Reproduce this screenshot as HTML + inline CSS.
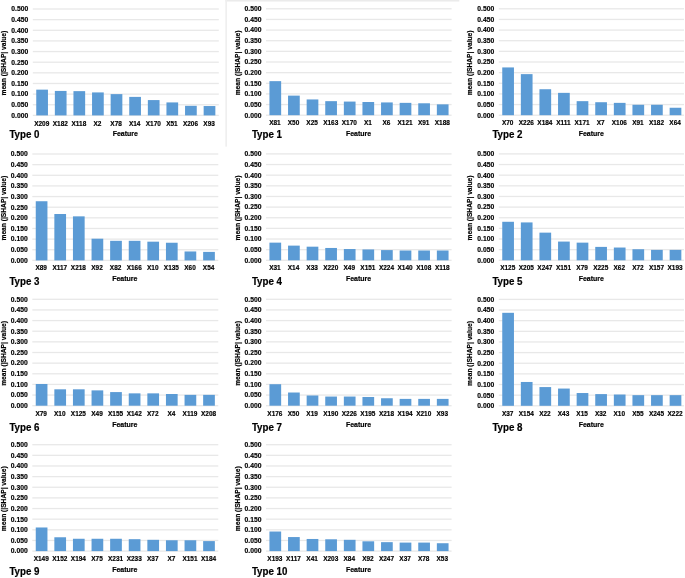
<!DOCTYPE html>
<html><head><meta charset="utf-8"><title>SHAP feature importance</title>
<style>
html,body{margin:0;padding:0;background:#fff;}
svg{display:block;filter:blur(0.3px);}
text{font-family:"Liberation Sans",sans-serif;font-weight:bold;fill:#000;stroke:#000;stroke-width:0.2px;}
</style></head><body>
<svg width="685" height="578" viewBox="0 0 685 578">
<rect width="685" height="578" fill="#fff"/>
<rect x="225.3" y="0" width="234" height="1.55" fill="#ebebeb"/>
<rect x="225.3" y="0" width="1.7" height="146.6" fill="#efefef"/>
<g>
<rect x="32.80" y="114.75" width="186.00" height="1.3" fill="#e8e8e8"/>
<text transform="translate(28.20,117.75) scale(0.840,1)" font-size="8.05" text-anchor="end">0.000</text>
<rect x="32.80" y="104.11" width="186.00" height="1.3" fill="#e8e8e8"/>
<text transform="translate(28.20,107.11) scale(0.840,1)" font-size="8.05" text-anchor="end">0.050</text>
<rect x="32.80" y="93.47" width="186.00" height="1.3" fill="#e8e8e8"/>
<text transform="translate(28.20,96.47) scale(0.840,1)" font-size="8.05" text-anchor="end">0.100</text>
<rect x="32.80" y="82.83" width="186.00" height="1.3" fill="#e8e8e8"/>
<text transform="translate(28.20,85.83) scale(0.840,1)" font-size="8.05" text-anchor="end">0.150</text>
<rect x="32.80" y="72.19" width="186.00" height="1.3" fill="#e8e8e8"/>
<text transform="translate(28.20,75.19) scale(0.840,1)" font-size="8.05" text-anchor="end">0.200</text>
<rect x="32.80" y="61.55" width="186.00" height="1.3" fill="#e8e8e8"/>
<text transform="translate(28.20,64.55) scale(0.840,1)" font-size="8.05" text-anchor="end">0.250</text>
<rect x="32.80" y="50.91" width="186.00" height="1.3" fill="#e8e8e8"/>
<text transform="translate(28.20,53.91) scale(0.840,1)" font-size="8.05" text-anchor="end">0.300</text>
<rect x="32.80" y="40.27" width="186.00" height="1.3" fill="#e8e8e8"/>
<text transform="translate(28.20,43.27) scale(0.840,1)" font-size="8.05" text-anchor="end">0.350</text>
<rect x="32.80" y="29.63" width="186.00" height="1.3" fill="#e8e8e8"/>
<text transform="translate(28.20,32.63) scale(0.840,1)" font-size="8.05" text-anchor="end">0.400</text>
<rect x="32.80" y="18.99" width="186.00" height="1.3" fill="#e8e8e8"/>
<text transform="translate(28.20,21.99) scale(0.840,1)" font-size="8.05" text-anchor="end">0.450</text>
<rect x="32.80" y="8.35" width="186.00" height="1.3" fill="#e8e8e8"/>
<text transform="translate(28.20,11.35) scale(0.840,1)" font-size="8.05" text-anchor="end">0.500</text>
<rect x="36.25" y="89.65" width="11.70" height="25.75" fill="#5b9bd5"/>
<text transform="translate(41.70,125.80) scale(0.820,1)" font-size="7.90" text-anchor="middle">X209</text>
<rect x="54.85" y="90.93" width="11.70" height="24.47" fill="#5b9bd5"/>
<text transform="translate(60.30,125.80) scale(0.820,1)" font-size="7.90" text-anchor="middle">X182</text>
<rect x="73.45" y="91.14" width="11.70" height="24.26" fill="#5b9bd5"/>
<text transform="translate(78.90,125.80) scale(0.820,1)" font-size="7.90" text-anchor="middle">X118</text>
<rect x="92.05" y="92.42" width="11.70" height="22.98" fill="#5b9bd5"/>
<text transform="translate(97.50,125.80) scale(0.820,1)" font-size="7.90" text-anchor="middle">X2</text>
<rect x="110.65" y="94.12" width="11.70" height="21.28" fill="#5b9bd5"/>
<text transform="translate(116.10,125.80) scale(0.820,1)" font-size="7.90" text-anchor="middle">X78</text>
<rect x="129.25" y="96.89" width="11.70" height="18.51" fill="#5b9bd5"/>
<text transform="translate(134.70,125.80) scale(0.820,1)" font-size="7.90" text-anchor="middle">X14</text>
<rect x="147.85" y="100.08" width="11.70" height="15.32" fill="#5b9bd5"/>
<text transform="translate(153.30,125.80) scale(0.820,1)" font-size="7.90" text-anchor="middle">X170</text>
<rect x="166.45" y="102.42" width="11.70" height="12.98" fill="#5b9bd5"/>
<text transform="translate(171.90,125.80) scale(0.820,1)" font-size="7.90" text-anchor="middle">X51</text>
<rect x="185.05" y="105.82" width="11.70" height="9.58" fill="#5b9bd5"/>
<text transform="translate(190.50,125.80) scale(0.820,1)" font-size="7.90" text-anchor="middle">X206</text>
<rect x="203.65" y="106.04" width="11.70" height="9.36" fill="#5b9bd5"/>
<text transform="translate(209.10,125.80) scale(0.820,1)" font-size="7.90" text-anchor="middle">X93</text>
<text transform="translate(125.30,136.30) scale(0.884,1)" font-size="7.90" text-anchor="middle">Feature</text>
<text transform="translate(9.40,138.00) scale(0.975,1)" font-size="10.00" text-anchor="start">Type 0</text>
<text transform="translate(6.10,63.10) rotate(-90) scale(0.845,1)" font-size="7.90" text-anchor="middle">mean (|SHAP| value)</text>
</g>
<g>
<rect x="266.00" y="114.55" width="185.60" height="1.3" fill="#e8e8e8"/>
<text transform="translate(261.40,117.55) scale(0.840,1)" font-size="8.05" text-anchor="end">0.000</text>
<rect x="266.00" y="103.91" width="185.60" height="1.3" fill="#e8e8e8"/>
<text transform="translate(261.40,106.91) scale(0.840,1)" font-size="8.05" text-anchor="end">0.050</text>
<rect x="266.00" y="93.27" width="185.60" height="1.3" fill="#e8e8e8"/>
<text transform="translate(261.40,96.27) scale(0.840,1)" font-size="8.05" text-anchor="end">0.100</text>
<rect x="266.00" y="82.63" width="185.60" height="1.3" fill="#e8e8e8"/>
<text transform="translate(261.40,85.63) scale(0.840,1)" font-size="8.05" text-anchor="end">0.150</text>
<rect x="266.00" y="71.99" width="185.60" height="1.3" fill="#e8e8e8"/>
<text transform="translate(261.40,74.99) scale(0.840,1)" font-size="8.05" text-anchor="end">0.200</text>
<rect x="266.00" y="61.35" width="185.60" height="1.3" fill="#e8e8e8"/>
<text transform="translate(261.40,64.35) scale(0.840,1)" font-size="8.05" text-anchor="end">0.250</text>
<rect x="266.00" y="50.71" width="185.60" height="1.3" fill="#e8e8e8"/>
<text transform="translate(261.40,53.71) scale(0.840,1)" font-size="8.05" text-anchor="end">0.300</text>
<rect x="266.00" y="40.07" width="185.60" height="1.3" fill="#e8e8e8"/>
<text transform="translate(261.40,43.07) scale(0.840,1)" font-size="8.05" text-anchor="end">0.350</text>
<rect x="266.00" y="29.43" width="185.60" height="1.3" fill="#e8e8e8"/>
<text transform="translate(261.40,32.43) scale(0.840,1)" font-size="8.05" text-anchor="end">0.400</text>
<rect x="266.00" y="18.79" width="185.60" height="1.3" fill="#e8e8e8"/>
<text transform="translate(261.40,21.79) scale(0.840,1)" font-size="8.05" text-anchor="end">0.450</text>
<rect x="266.00" y="8.15" width="185.60" height="1.3" fill="#e8e8e8"/>
<text transform="translate(261.40,11.15) scale(0.840,1)" font-size="8.05" text-anchor="end">0.500</text>
<rect x="269.45" y="81.15" width="11.70" height="34.05" fill="#5b9bd5"/>
<text transform="translate(274.90,124.90) scale(0.820,1)" font-size="7.90" text-anchor="middle">X81</text>
<rect x="288.05" y="95.62" width="11.70" height="19.58" fill="#5b9bd5"/>
<text transform="translate(293.50,124.90) scale(0.820,1)" font-size="7.90" text-anchor="middle">X50</text>
<rect x="306.65" y="99.45" width="11.70" height="15.75" fill="#5b9bd5"/>
<text transform="translate(312.10,124.90) scale(0.820,1)" font-size="7.90" text-anchor="middle">X25</text>
<rect x="325.25" y="101.16" width="11.70" height="14.04" fill="#5b9bd5"/>
<text transform="translate(330.70,124.90) scale(0.820,1)" font-size="7.90" text-anchor="middle">X163</text>
<rect x="343.85" y="101.58" width="11.70" height="13.62" fill="#5b9bd5"/>
<text transform="translate(349.30,124.90) scale(0.820,1)" font-size="7.90" text-anchor="middle">X170</text>
<rect x="362.45" y="102.01" width="11.70" height="13.19" fill="#5b9bd5"/>
<text transform="translate(367.90,124.90) scale(0.820,1)" font-size="7.90" text-anchor="middle">X1</text>
<rect x="381.05" y="102.43" width="11.70" height="12.77" fill="#5b9bd5"/>
<text transform="translate(386.50,124.90) scale(0.820,1)" font-size="7.90" text-anchor="middle">X6</text>
<rect x="399.65" y="102.86" width="11.70" height="12.34" fill="#5b9bd5"/>
<text transform="translate(405.10,124.90) scale(0.820,1)" font-size="7.90" text-anchor="middle">X121</text>
<rect x="418.25" y="103.28" width="11.70" height="11.92" fill="#5b9bd5"/>
<text transform="translate(423.70,124.90) scale(0.820,1)" font-size="7.90" text-anchor="middle">X91</text>
<rect x="436.85" y="104.35" width="11.70" height="10.85" fill="#5b9bd5"/>
<text transform="translate(442.30,124.90) scale(0.820,1)" font-size="7.90" text-anchor="middle">X188</text>
<text transform="translate(358.50,136.10) scale(0.884,1)" font-size="7.90" text-anchor="middle">Feature</text>
<text transform="translate(251.90,138.00) scale(0.975,1)" font-size="10.00" text-anchor="start">Type 1</text>
<text transform="translate(239.80,62.90) rotate(-90) scale(0.845,1)" font-size="7.90" text-anchor="middle">mean (|SHAP| value)</text>
</g>
<g>
<rect x="498.80" y="114.55" width="185.20" height="1.3" fill="#e8e8e8"/>
<text transform="translate(494.20,117.55) scale(0.840,1)" font-size="8.05" text-anchor="end">0.000</text>
<rect x="498.80" y="103.91" width="185.20" height="1.3" fill="#e8e8e8"/>
<text transform="translate(494.20,106.91) scale(0.840,1)" font-size="8.05" text-anchor="end">0.050</text>
<rect x="498.80" y="93.27" width="185.20" height="1.3" fill="#e8e8e8"/>
<text transform="translate(494.20,96.27) scale(0.840,1)" font-size="8.05" text-anchor="end">0.100</text>
<rect x="498.80" y="82.63" width="185.20" height="1.3" fill="#e8e8e8"/>
<text transform="translate(494.20,85.63) scale(0.840,1)" font-size="8.05" text-anchor="end">0.150</text>
<rect x="498.80" y="71.99" width="185.20" height="1.3" fill="#e8e8e8"/>
<text transform="translate(494.20,74.99) scale(0.840,1)" font-size="8.05" text-anchor="end">0.200</text>
<rect x="498.80" y="61.35" width="185.20" height="1.3" fill="#e8e8e8"/>
<text transform="translate(494.20,64.35) scale(0.840,1)" font-size="8.05" text-anchor="end">0.250</text>
<rect x="498.80" y="50.71" width="185.20" height="1.3" fill="#e8e8e8"/>
<text transform="translate(494.20,53.71) scale(0.840,1)" font-size="8.05" text-anchor="end">0.300</text>
<rect x="498.80" y="40.07" width="185.20" height="1.3" fill="#e8e8e8"/>
<text transform="translate(494.20,43.07) scale(0.840,1)" font-size="8.05" text-anchor="end">0.350</text>
<rect x="498.80" y="29.43" width="185.20" height="1.3" fill="#e8e8e8"/>
<text transform="translate(494.20,32.43) scale(0.840,1)" font-size="8.05" text-anchor="end">0.400</text>
<rect x="498.80" y="18.79" width="185.20" height="1.3" fill="#e8e8e8"/>
<text transform="translate(494.20,21.79) scale(0.840,1)" font-size="8.05" text-anchor="end">0.450</text>
<rect x="498.80" y="8.15" width="185.20" height="1.3" fill="#e8e8e8"/>
<text transform="translate(494.20,11.15) scale(0.840,1)" font-size="8.05" text-anchor="end">0.500</text>
<rect x="502.25" y="67.43" width="11.70" height="47.77" fill="#5b9bd5"/>
<text transform="translate(507.70,124.90) scale(0.820,1)" font-size="7.90" text-anchor="middle">X70</text>
<rect x="520.85" y="74.13" width="11.70" height="41.07" fill="#5b9bd5"/>
<text transform="translate(526.30,124.90) scale(0.820,1)" font-size="7.90" text-anchor="middle">X226</text>
<rect x="539.45" y="89.24" width="11.70" height="25.96" fill="#5b9bd5"/>
<text transform="translate(544.90,124.90) scale(0.820,1)" font-size="7.90" text-anchor="middle">X184</text>
<rect x="558.05" y="92.86" width="11.70" height="22.34" fill="#5b9bd5"/>
<text transform="translate(563.50,124.90) scale(0.820,1)" font-size="7.90" text-anchor="middle">X111</text>
<rect x="576.65" y="101.16" width="11.70" height="14.04" fill="#5b9bd5"/>
<text transform="translate(582.10,124.90) scale(0.820,1)" font-size="7.90" text-anchor="middle">X171</text>
<rect x="595.25" y="102.22" width="11.70" height="12.98" fill="#5b9bd5"/>
<text transform="translate(600.70,124.90) scale(0.820,1)" font-size="7.90" text-anchor="middle">X7</text>
<rect x="613.85" y="102.86" width="11.70" height="12.34" fill="#5b9bd5"/>
<text transform="translate(619.30,124.90) scale(0.820,1)" font-size="7.90" text-anchor="middle">X106</text>
<rect x="632.45" y="104.77" width="11.70" height="10.43" fill="#5b9bd5"/>
<text transform="translate(637.90,124.90) scale(0.820,1)" font-size="7.90" text-anchor="middle">X91</text>
<rect x="651.05" y="104.77" width="11.70" height="10.43" fill="#5b9bd5"/>
<text transform="translate(656.50,124.90) scale(0.820,1)" font-size="7.90" text-anchor="middle">X182</text>
<rect x="669.65" y="107.75" width="11.70" height="7.45" fill="#5b9bd5"/>
<text transform="translate(675.10,124.90) scale(0.820,1)" font-size="7.90" text-anchor="middle">X64</text>
<text transform="translate(591.30,136.10) scale(0.884,1)" font-size="7.90" text-anchor="middle">Feature</text>
<text transform="translate(492.40,138.00) scale(0.975,1)" font-size="10.00" text-anchor="start">Type 2</text>
<text transform="translate(472.10,62.90) rotate(-90) scale(0.845,1)" font-size="7.90" text-anchor="middle">mean (|SHAP| value)</text>
</g>
<g>
<rect x="32.30" y="259.75" width="186.00" height="1.3" fill="#e8e8e8"/>
<text transform="translate(27.70,262.75) scale(0.840,1)" font-size="8.05" text-anchor="end">0.000</text>
<rect x="32.30" y="249.11" width="186.00" height="1.3" fill="#e8e8e8"/>
<text transform="translate(27.70,252.11) scale(0.840,1)" font-size="8.05" text-anchor="end">0.050</text>
<rect x="32.30" y="238.47" width="186.00" height="1.3" fill="#e8e8e8"/>
<text transform="translate(27.70,241.47) scale(0.840,1)" font-size="8.05" text-anchor="end">0.100</text>
<rect x="32.30" y="227.83" width="186.00" height="1.3" fill="#e8e8e8"/>
<text transform="translate(27.70,230.83) scale(0.840,1)" font-size="8.05" text-anchor="end">0.150</text>
<rect x="32.30" y="217.19" width="186.00" height="1.3" fill="#e8e8e8"/>
<text transform="translate(27.70,220.19) scale(0.840,1)" font-size="8.05" text-anchor="end">0.200</text>
<rect x="32.30" y="206.55" width="186.00" height="1.3" fill="#e8e8e8"/>
<text transform="translate(27.70,209.55) scale(0.840,1)" font-size="8.05" text-anchor="end">0.250</text>
<rect x="32.30" y="195.91" width="186.00" height="1.3" fill="#e8e8e8"/>
<text transform="translate(27.70,198.91) scale(0.840,1)" font-size="8.05" text-anchor="end">0.300</text>
<rect x="32.30" y="185.27" width="186.00" height="1.3" fill="#e8e8e8"/>
<text transform="translate(27.70,188.27) scale(0.840,1)" font-size="8.05" text-anchor="end">0.350</text>
<rect x="32.30" y="174.63" width="186.00" height="1.3" fill="#e8e8e8"/>
<text transform="translate(27.70,177.63) scale(0.840,1)" font-size="8.05" text-anchor="end">0.400</text>
<rect x="32.30" y="163.99" width="186.00" height="1.3" fill="#e8e8e8"/>
<text transform="translate(27.70,166.99) scale(0.840,1)" font-size="8.05" text-anchor="end">0.450</text>
<rect x="32.30" y="153.35" width="186.00" height="1.3" fill="#e8e8e8"/>
<text transform="translate(27.70,156.35) scale(0.840,1)" font-size="8.05" text-anchor="end">0.500</text>
<rect x="35.75" y="201.24" width="11.70" height="59.16" fill="#5b9bd5"/>
<text transform="translate(41.20,270.40) scale(0.820,1)" font-size="7.90" text-anchor="middle">X89</text>
<rect x="54.35" y="214.01" width="11.70" height="46.39" fill="#5b9bd5"/>
<text transform="translate(59.80,270.40) scale(0.820,1)" font-size="7.90" text-anchor="middle">X117</text>
<rect x="72.95" y="216.35" width="11.70" height="44.05" fill="#5b9bd5"/>
<text transform="translate(78.40,270.40) scale(0.820,1)" font-size="7.90" text-anchor="middle">X218</text>
<rect x="91.55" y="238.69" width="11.70" height="21.71" fill="#5b9bd5"/>
<text transform="translate(97.00,270.40) scale(0.820,1)" font-size="7.90" text-anchor="middle">X92</text>
<rect x="110.15" y="240.82" width="11.70" height="19.58" fill="#5b9bd5"/>
<text transform="translate(115.60,270.40) scale(0.820,1)" font-size="7.90" text-anchor="middle">X82</text>
<rect x="128.75" y="240.82" width="11.70" height="19.58" fill="#5b9bd5"/>
<text transform="translate(134.20,270.40) scale(0.820,1)" font-size="7.90" text-anchor="middle">X166</text>
<rect x="147.35" y="241.67" width="11.70" height="18.73" fill="#5b9bd5"/>
<text transform="translate(152.80,270.40) scale(0.820,1)" font-size="7.90" text-anchor="middle">X10</text>
<rect x="165.95" y="242.74" width="11.70" height="17.66" fill="#5b9bd5"/>
<text transform="translate(171.40,270.40) scale(0.820,1)" font-size="7.90" text-anchor="middle">X135</text>
<rect x="184.55" y="251.46" width="11.70" height="8.94" fill="#5b9bd5"/>
<text transform="translate(190.00,270.40) scale(0.820,1)" font-size="7.90" text-anchor="middle">X60</text>
<rect x="203.15" y="251.89" width="11.70" height="8.51" fill="#5b9bd5"/>
<text transform="translate(208.60,270.40) scale(0.820,1)" font-size="7.90" text-anchor="middle">X54</text>
<text transform="translate(124.80,281.30) scale(0.884,1)" font-size="7.90" text-anchor="middle">Feature</text>
<text transform="translate(9.40,284.60) scale(0.975,1)" font-size="10.00" text-anchor="start">Type 3</text>
<text transform="translate(5.60,208.10) rotate(-90) scale(0.845,1)" font-size="7.90" text-anchor="middle">mean (|SHAP| value)</text>
</g>
<g>
<rect x="266.00" y="259.65" width="185.60" height="1.3" fill="#e8e8e8"/>
<text transform="translate(261.40,262.65) scale(0.840,1)" font-size="8.05" text-anchor="end">0.000</text>
<rect x="266.00" y="249.01" width="185.60" height="1.3" fill="#e8e8e8"/>
<text transform="translate(261.40,252.01) scale(0.840,1)" font-size="8.05" text-anchor="end">0.050</text>
<rect x="266.00" y="238.37" width="185.60" height="1.3" fill="#e8e8e8"/>
<text transform="translate(261.40,241.37) scale(0.840,1)" font-size="8.05" text-anchor="end">0.100</text>
<rect x="266.00" y="227.73" width="185.60" height="1.3" fill="#e8e8e8"/>
<text transform="translate(261.40,230.73) scale(0.840,1)" font-size="8.05" text-anchor="end">0.150</text>
<rect x="266.00" y="217.09" width="185.60" height="1.3" fill="#e8e8e8"/>
<text transform="translate(261.40,220.09) scale(0.840,1)" font-size="8.05" text-anchor="end">0.200</text>
<rect x="266.00" y="206.45" width="185.60" height="1.3" fill="#e8e8e8"/>
<text transform="translate(261.40,209.45) scale(0.840,1)" font-size="8.05" text-anchor="end">0.250</text>
<rect x="266.00" y="195.81" width="185.60" height="1.3" fill="#e8e8e8"/>
<text transform="translate(261.40,198.81) scale(0.840,1)" font-size="8.05" text-anchor="end">0.300</text>
<rect x="266.00" y="185.17" width="185.60" height="1.3" fill="#e8e8e8"/>
<text transform="translate(261.40,188.17) scale(0.840,1)" font-size="8.05" text-anchor="end">0.350</text>
<rect x="266.00" y="174.53" width="185.60" height="1.3" fill="#e8e8e8"/>
<text transform="translate(261.40,177.53) scale(0.840,1)" font-size="8.05" text-anchor="end">0.400</text>
<rect x="266.00" y="163.89" width="185.60" height="1.3" fill="#e8e8e8"/>
<text transform="translate(261.40,166.89) scale(0.840,1)" font-size="8.05" text-anchor="end">0.450</text>
<rect x="266.00" y="153.25" width="185.60" height="1.3" fill="#e8e8e8"/>
<text transform="translate(261.40,156.25) scale(0.840,1)" font-size="8.05" text-anchor="end">0.500</text>
<rect x="269.45" y="242.64" width="11.70" height="17.66" fill="#5b9bd5"/>
<text transform="translate(274.90,270.30) scale(0.820,1)" font-size="7.90" text-anchor="middle">X31</text>
<rect x="288.05" y="245.62" width="11.70" height="14.68" fill="#5b9bd5"/>
<text transform="translate(293.50,270.30) scale(0.820,1)" font-size="7.90" text-anchor="middle">X14</text>
<rect x="306.65" y="246.68" width="11.70" height="13.62" fill="#5b9bd5"/>
<text transform="translate(312.10,270.30) scale(0.820,1)" font-size="7.90" text-anchor="middle">X33</text>
<rect x="325.25" y="247.96" width="11.70" height="12.34" fill="#5b9bd5"/>
<text transform="translate(330.70,270.30) scale(0.820,1)" font-size="7.90" text-anchor="middle">X220</text>
<rect x="343.85" y="249.02" width="11.70" height="11.28" fill="#5b9bd5"/>
<text transform="translate(349.30,270.30) scale(0.820,1)" font-size="7.90" text-anchor="middle">X49</text>
<rect x="362.45" y="249.45" width="11.70" height="10.85" fill="#5b9bd5"/>
<text transform="translate(367.90,270.30) scale(0.820,1)" font-size="7.90" text-anchor="middle">X151</text>
<rect x="381.05" y="250.09" width="11.70" height="10.21" fill="#5b9bd5"/>
<text transform="translate(386.50,270.30) scale(0.820,1)" font-size="7.90" text-anchor="middle">X224</text>
<rect x="399.65" y="250.51" width="11.70" height="9.79" fill="#5b9bd5"/>
<text transform="translate(405.10,270.30) scale(0.820,1)" font-size="7.90" text-anchor="middle">X140</text>
<rect x="418.25" y="250.51" width="11.70" height="9.79" fill="#5b9bd5"/>
<text transform="translate(423.70,270.30) scale(0.820,1)" font-size="7.90" text-anchor="middle">X108</text>
<rect x="436.85" y="250.51" width="11.70" height="9.79" fill="#5b9bd5"/>
<text transform="translate(442.30,270.30) scale(0.820,1)" font-size="7.90" text-anchor="middle">X118</text>
<text transform="translate(358.50,281.20) scale(0.884,1)" font-size="7.90" text-anchor="middle">Feature</text>
<text transform="translate(251.90,284.60) scale(0.975,1)" font-size="10.00" text-anchor="start">Type 4</text>
<text transform="translate(239.80,208.00) rotate(-90) scale(0.845,1)" font-size="7.90" text-anchor="middle">mean (|SHAP| value)</text>
</g>
<g>
<rect x="498.80" y="259.65" width="185.20" height="1.3" fill="#e8e8e8"/>
<text transform="translate(494.20,262.65) scale(0.840,1)" font-size="8.05" text-anchor="end">0.000</text>
<rect x="498.80" y="249.01" width="185.20" height="1.3" fill="#e8e8e8"/>
<text transform="translate(494.20,252.01) scale(0.840,1)" font-size="8.05" text-anchor="end">0.050</text>
<rect x="498.80" y="238.37" width="185.20" height="1.3" fill="#e8e8e8"/>
<text transform="translate(494.20,241.37) scale(0.840,1)" font-size="8.05" text-anchor="end">0.100</text>
<rect x="498.80" y="227.73" width="185.20" height="1.3" fill="#e8e8e8"/>
<text transform="translate(494.20,230.73) scale(0.840,1)" font-size="8.05" text-anchor="end">0.150</text>
<rect x="498.80" y="217.09" width="185.20" height="1.3" fill="#e8e8e8"/>
<text transform="translate(494.20,220.09) scale(0.840,1)" font-size="8.05" text-anchor="end">0.200</text>
<rect x="498.80" y="206.45" width="185.20" height="1.3" fill="#e8e8e8"/>
<text transform="translate(494.20,209.45) scale(0.840,1)" font-size="8.05" text-anchor="end">0.250</text>
<rect x="498.80" y="195.81" width="185.20" height="1.3" fill="#e8e8e8"/>
<text transform="translate(494.20,198.81) scale(0.840,1)" font-size="8.05" text-anchor="end">0.300</text>
<rect x="498.80" y="185.17" width="185.20" height="1.3" fill="#e8e8e8"/>
<text transform="translate(494.20,188.17) scale(0.840,1)" font-size="8.05" text-anchor="end">0.350</text>
<rect x="498.80" y="174.53" width="185.20" height="1.3" fill="#e8e8e8"/>
<text transform="translate(494.20,177.53) scale(0.840,1)" font-size="8.05" text-anchor="end">0.400</text>
<rect x="498.80" y="163.89" width="185.20" height="1.3" fill="#e8e8e8"/>
<text transform="translate(494.20,166.89) scale(0.840,1)" font-size="8.05" text-anchor="end">0.450</text>
<rect x="498.80" y="153.25" width="185.20" height="1.3" fill="#e8e8e8"/>
<text transform="translate(494.20,156.25) scale(0.840,1)" font-size="8.05" text-anchor="end">0.500</text>
<rect x="502.25" y="221.78" width="11.70" height="38.52" fill="#5b9bd5"/>
<text transform="translate(507.70,270.30) scale(0.820,1)" font-size="7.90" text-anchor="middle">X125</text>
<rect x="520.85" y="222.42" width="11.70" height="37.88" fill="#5b9bd5"/>
<text transform="translate(526.30,270.30) scale(0.820,1)" font-size="7.90" text-anchor="middle">X205</text>
<rect x="539.45" y="232.64" width="11.70" height="27.66" fill="#5b9bd5"/>
<text transform="translate(544.90,270.30) scale(0.820,1)" font-size="7.90" text-anchor="middle">X247</text>
<rect x="558.05" y="241.57" width="11.70" height="18.73" fill="#5b9bd5"/>
<text transform="translate(563.50,270.30) scale(0.820,1)" font-size="7.90" text-anchor="middle">X151</text>
<rect x="576.65" y="242.64" width="11.70" height="17.66" fill="#5b9bd5"/>
<text transform="translate(582.10,270.30) scale(0.820,1)" font-size="7.90" text-anchor="middle">X79</text>
<rect x="595.25" y="246.89" width="11.70" height="13.41" fill="#5b9bd5"/>
<text transform="translate(600.70,270.30) scale(0.820,1)" font-size="7.90" text-anchor="middle">X225</text>
<rect x="613.85" y="247.53" width="11.70" height="12.77" fill="#5b9bd5"/>
<text transform="translate(619.30,270.30) scale(0.820,1)" font-size="7.90" text-anchor="middle">X62</text>
<rect x="632.45" y="249.23" width="11.70" height="11.07" fill="#5b9bd5"/>
<text transform="translate(637.90,270.30) scale(0.820,1)" font-size="7.90" text-anchor="middle">X72</text>
<rect x="651.05" y="249.87" width="11.70" height="10.43" fill="#5b9bd5"/>
<text transform="translate(656.50,270.30) scale(0.820,1)" font-size="7.90" text-anchor="middle">X157</text>
<rect x="669.65" y="249.87" width="11.70" height="10.43" fill="#5b9bd5"/>
<text transform="translate(675.10,270.30) scale(0.820,1)" font-size="7.90" text-anchor="middle">X193</text>
<text transform="translate(591.30,281.20) scale(0.884,1)" font-size="7.90" text-anchor="middle">Feature</text>
<text transform="translate(492.40,284.60) scale(0.975,1)" font-size="10.00" text-anchor="start">Type 5</text>
<text transform="translate(472.10,208.00) rotate(-90) scale(0.845,1)" font-size="7.90" text-anchor="middle">mean (|SHAP| value)</text>
</g>
<g>
<rect x="32.30" y="405.05" width="186.00" height="1.3" fill="#e8e8e8"/>
<text transform="translate(27.70,408.05) scale(0.840,1)" font-size="8.05" text-anchor="end">0.000</text>
<rect x="32.30" y="394.41" width="186.00" height="1.3" fill="#e8e8e8"/>
<text transform="translate(27.70,397.41) scale(0.840,1)" font-size="8.05" text-anchor="end">0.050</text>
<rect x="32.30" y="383.77" width="186.00" height="1.3" fill="#e8e8e8"/>
<text transform="translate(27.70,386.77) scale(0.840,1)" font-size="8.05" text-anchor="end">0.100</text>
<rect x="32.30" y="373.13" width="186.00" height="1.3" fill="#e8e8e8"/>
<text transform="translate(27.70,376.13) scale(0.840,1)" font-size="8.05" text-anchor="end">0.150</text>
<rect x="32.30" y="362.49" width="186.00" height="1.3" fill="#e8e8e8"/>
<text transform="translate(27.70,365.49) scale(0.840,1)" font-size="8.05" text-anchor="end">0.200</text>
<rect x="32.30" y="351.85" width="186.00" height="1.3" fill="#e8e8e8"/>
<text transform="translate(27.70,354.85) scale(0.840,1)" font-size="8.05" text-anchor="end">0.250</text>
<rect x="32.30" y="341.21" width="186.00" height="1.3" fill="#e8e8e8"/>
<text transform="translate(27.70,344.21) scale(0.840,1)" font-size="8.05" text-anchor="end">0.300</text>
<rect x="32.30" y="330.57" width="186.00" height="1.3" fill="#e8e8e8"/>
<text transform="translate(27.70,333.57) scale(0.840,1)" font-size="8.05" text-anchor="end">0.350</text>
<rect x="32.30" y="319.93" width="186.00" height="1.3" fill="#e8e8e8"/>
<text transform="translate(27.70,322.93) scale(0.840,1)" font-size="8.05" text-anchor="end">0.400</text>
<rect x="32.30" y="309.29" width="186.00" height="1.3" fill="#e8e8e8"/>
<text transform="translate(27.70,312.29) scale(0.840,1)" font-size="8.05" text-anchor="end">0.450</text>
<rect x="32.30" y="298.65" width="186.00" height="1.3" fill="#e8e8e8"/>
<text transform="translate(27.70,301.65) scale(0.840,1)" font-size="8.05" text-anchor="end">0.500</text>
<rect x="35.75" y="383.99" width="11.70" height="21.71" fill="#5b9bd5"/>
<text transform="translate(41.20,415.70) scale(0.820,1)" font-size="7.90" text-anchor="middle">X79</text>
<rect x="54.35" y="389.31" width="11.70" height="16.39" fill="#5b9bd5"/>
<text transform="translate(59.80,415.70) scale(0.820,1)" font-size="7.90" text-anchor="middle">X10</text>
<rect x="72.95" y="389.31" width="11.70" height="16.39" fill="#5b9bd5"/>
<text transform="translate(78.40,415.70) scale(0.820,1)" font-size="7.90" text-anchor="middle">X125</text>
<rect x="91.55" y="390.38" width="11.70" height="15.32" fill="#5b9bd5"/>
<text transform="translate(97.00,415.70) scale(0.820,1)" font-size="7.90" text-anchor="middle">X49</text>
<rect x="110.15" y="392.08" width="11.70" height="13.62" fill="#5b9bd5"/>
<text transform="translate(115.60,415.70) scale(0.820,1)" font-size="7.90" text-anchor="middle">X155</text>
<rect x="128.75" y="393.36" width="11.70" height="12.34" fill="#5b9bd5"/>
<text transform="translate(134.20,415.70) scale(0.820,1)" font-size="7.90" text-anchor="middle">X142</text>
<rect x="147.35" y="393.36" width="11.70" height="12.34" fill="#5b9bd5"/>
<text transform="translate(152.80,415.70) scale(0.820,1)" font-size="7.90" text-anchor="middle">X72</text>
<rect x="165.95" y="394.00" width="11.70" height="11.70" fill="#5b9bd5"/>
<text transform="translate(171.40,415.70) scale(0.820,1)" font-size="7.90" text-anchor="middle">X4</text>
<rect x="184.55" y="394.85" width="11.70" height="10.85" fill="#5b9bd5"/>
<text transform="translate(190.00,415.70) scale(0.820,1)" font-size="7.90" text-anchor="middle">X119</text>
<rect x="203.15" y="394.85" width="11.70" height="10.85" fill="#5b9bd5"/>
<text transform="translate(208.60,415.70) scale(0.820,1)" font-size="7.90" text-anchor="middle">X208</text>
<text transform="translate(124.80,426.60) scale(0.884,1)" font-size="7.90" text-anchor="middle">Feature</text>
<text transform="translate(9.40,430.80) scale(0.975,1)" font-size="10.00" text-anchor="start">Type 6</text>
<text transform="translate(5.60,353.40) rotate(-90) scale(0.845,1)" font-size="7.90" text-anchor="middle">mean (|SHAP| value)</text>
</g>
<g>
<rect x="266.00" y="405.05" width="185.60" height="1.3" fill="#e8e8e8"/>
<text transform="translate(261.40,408.05) scale(0.840,1)" font-size="8.05" text-anchor="end">0.000</text>
<rect x="266.00" y="394.41" width="185.60" height="1.3" fill="#e8e8e8"/>
<text transform="translate(261.40,397.41) scale(0.840,1)" font-size="8.05" text-anchor="end">0.050</text>
<rect x="266.00" y="383.77" width="185.60" height="1.3" fill="#e8e8e8"/>
<text transform="translate(261.40,386.77) scale(0.840,1)" font-size="8.05" text-anchor="end">0.100</text>
<rect x="266.00" y="373.13" width="185.60" height="1.3" fill="#e8e8e8"/>
<text transform="translate(261.40,376.13) scale(0.840,1)" font-size="8.05" text-anchor="end">0.150</text>
<rect x="266.00" y="362.49" width="185.60" height="1.3" fill="#e8e8e8"/>
<text transform="translate(261.40,365.49) scale(0.840,1)" font-size="8.05" text-anchor="end">0.200</text>
<rect x="266.00" y="351.85" width="185.60" height="1.3" fill="#e8e8e8"/>
<text transform="translate(261.40,354.85) scale(0.840,1)" font-size="8.05" text-anchor="end">0.250</text>
<rect x="266.00" y="341.21" width="185.60" height="1.3" fill="#e8e8e8"/>
<text transform="translate(261.40,344.21) scale(0.840,1)" font-size="8.05" text-anchor="end">0.300</text>
<rect x="266.00" y="330.57" width="185.60" height="1.3" fill="#e8e8e8"/>
<text transform="translate(261.40,333.57) scale(0.840,1)" font-size="8.05" text-anchor="end">0.350</text>
<rect x="266.00" y="319.93" width="185.60" height="1.3" fill="#e8e8e8"/>
<text transform="translate(261.40,322.93) scale(0.840,1)" font-size="8.05" text-anchor="end">0.400</text>
<rect x="266.00" y="309.29" width="185.60" height="1.3" fill="#e8e8e8"/>
<text transform="translate(261.40,312.29) scale(0.840,1)" font-size="8.05" text-anchor="end">0.450</text>
<rect x="266.00" y="298.65" width="185.60" height="1.3" fill="#e8e8e8"/>
<text transform="translate(261.40,301.65) scale(0.840,1)" font-size="8.05" text-anchor="end">0.500</text>
<rect x="269.45" y="384.21" width="11.70" height="21.49" fill="#5b9bd5"/>
<text transform="translate(274.90,415.70) scale(0.820,1)" font-size="7.90" text-anchor="middle">X176</text>
<rect x="288.05" y="392.51" width="11.70" height="13.19" fill="#5b9bd5"/>
<text transform="translate(293.50,415.70) scale(0.820,1)" font-size="7.90" text-anchor="middle">X50</text>
<rect x="306.65" y="395.49" width="11.70" height="10.21" fill="#5b9bd5"/>
<text transform="translate(312.10,415.70) scale(0.820,1)" font-size="7.90" text-anchor="middle">X19</text>
<rect x="325.25" y="396.55" width="11.70" height="9.15" fill="#5b9bd5"/>
<text transform="translate(330.70,415.70) scale(0.820,1)" font-size="7.90" text-anchor="middle">X190</text>
<rect x="343.85" y="396.55" width="11.70" height="9.15" fill="#5b9bd5"/>
<text transform="translate(349.30,415.70) scale(0.820,1)" font-size="7.90" text-anchor="middle">X226</text>
<rect x="362.45" y="396.98" width="11.70" height="8.72" fill="#5b9bd5"/>
<text transform="translate(367.90,415.70) scale(0.820,1)" font-size="7.90" text-anchor="middle">X195</text>
<rect x="381.05" y="398.25" width="11.70" height="7.45" fill="#5b9bd5"/>
<text transform="translate(386.50,415.70) scale(0.820,1)" font-size="7.90" text-anchor="middle">X218</text>
<rect x="399.65" y="398.89" width="11.70" height="6.81" fill="#5b9bd5"/>
<text transform="translate(405.10,415.70) scale(0.820,1)" font-size="7.90" text-anchor="middle">X194</text>
<rect x="418.25" y="398.89" width="11.70" height="6.81" fill="#5b9bd5"/>
<text transform="translate(423.70,415.70) scale(0.820,1)" font-size="7.90" text-anchor="middle">X210</text>
<rect x="436.85" y="398.89" width="11.70" height="6.81" fill="#5b9bd5"/>
<text transform="translate(442.30,415.70) scale(0.820,1)" font-size="7.90" text-anchor="middle">X93</text>
<text transform="translate(358.50,426.60) scale(0.884,1)" font-size="7.90" text-anchor="middle">Feature</text>
<text transform="translate(251.90,430.80) scale(0.975,1)" font-size="10.00" text-anchor="start">Type 7</text>
<text transform="translate(239.80,353.40) rotate(-90) scale(0.845,1)" font-size="7.90" text-anchor="middle">mean (|SHAP| value)</text>
</g>
<g>
<rect x="498.80" y="405.15" width="185.20" height="1.3" fill="#e8e8e8"/>
<text transform="translate(494.20,408.15) scale(0.840,1)" font-size="8.05" text-anchor="end">0.000</text>
<rect x="498.80" y="394.51" width="185.20" height="1.3" fill="#e8e8e8"/>
<text transform="translate(494.20,397.51) scale(0.840,1)" font-size="8.05" text-anchor="end">0.050</text>
<rect x="498.80" y="383.87" width="185.20" height="1.3" fill="#e8e8e8"/>
<text transform="translate(494.20,386.87) scale(0.840,1)" font-size="8.05" text-anchor="end">0.100</text>
<rect x="498.80" y="373.23" width="185.20" height="1.3" fill="#e8e8e8"/>
<text transform="translate(494.20,376.23) scale(0.840,1)" font-size="8.05" text-anchor="end">0.150</text>
<rect x="498.80" y="362.59" width="185.20" height="1.3" fill="#e8e8e8"/>
<text transform="translate(494.20,365.59) scale(0.840,1)" font-size="8.05" text-anchor="end">0.200</text>
<rect x="498.80" y="351.95" width="185.20" height="1.3" fill="#e8e8e8"/>
<text transform="translate(494.20,354.95) scale(0.840,1)" font-size="8.05" text-anchor="end">0.250</text>
<rect x="498.80" y="341.31" width="185.20" height="1.3" fill="#e8e8e8"/>
<text transform="translate(494.20,344.31) scale(0.840,1)" font-size="8.05" text-anchor="end">0.300</text>
<rect x="498.80" y="330.67" width="185.20" height="1.3" fill="#e8e8e8"/>
<text transform="translate(494.20,333.67) scale(0.840,1)" font-size="8.05" text-anchor="end">0.350</text>
<rect x="498.80" y="320.03" width="185.20" height="1.3" fill="#e8e8e8"/>
<text transform="translate(494.20,323.03) scale(0.840,1)" font-size="8.05" text-anchor="end">0.400</text>
<rect x="498.80" y="309.39" width="185.20" height="1.3" fill="#e8e8e8"/>
<text transform="translate(494.20,312.39) scale(0.840,1)" font-size="8.05" text-anchor="end">0.450</text>
<rect x="498.80" y="298.75" width="185.20" height="1.3" fill="#e8e8e8"/>
<text transform="translate(494.20,301.75) scale(0.840,1)" font-size="8.05" text-anchor="end">0.500</text>
<rect x="502.25" y="312.81" width="11.70" height="92.99" fill="#5b9bd5"/>
<text transform="translate(507.70,415.80) scale(0.820,1)" font-size="7.90" text-anchor="middle">X37</text>
<rect x="520.85" y="381.97" width="11.70" height="23.83" fill="#5b9bd5"/>
<text transform="translate(526.30,415.80) scale(0.820,1)" font-size="7.90" text-anchor="middle">X154</text>
<rect x="539.45" y="387.07" width="11.70" height="18.73" fill="#5b9bd5"/>
<text transform="translate(544.90,415.80) scale(0.820,1)" font-size="7.90" text-anchor="middle">X22</text>
<rect x="558.05" y="388.56" width="11.70" height="17.24" fill="#5b9bd5"/>
<text transform="translate(563.50,415.80) scale(0.820,1)" font-size="7.90" text-anchor="middle">X43</text>
<rect x="576.65" y="393.03" width="11.70" height="12.77" fill="#5b9bd5"/>
<text transform="translate(582.10,415.80) scale(0.820,1)" font-size="7.90" text-anchor="middle">X15</text>
<rect x="595.25" y="394.10" width="11.70" height="11.70" fill="#5b9bd5"/>
<text transform="translate(600.70,415.80) scale(0.820,1)" font-size="7.90" text-anchor="middle">X32</text>
<rect x="613.85" y="394.52" width="11.70" height="11.28" fill="#5b9bd5"/>
<text transform="translate(619.30,415.80) scale(0.820,1)" font-size="7.90" text-anchor="middle">X10</text>
<rect x="632.45" y="395.16" width="11.70" height="10.64" fill="#5b9bd5"/>
<text transform="translate(637.90,415.80) scale(0.820,1)" font-size="7.90" text-anchor="middle">X55</text>
<rect x="651.05" y="395.16" width="11.70" height="10.64" fill="#5b9bd5"/>
<text transform="translate(656.50,415.80) scale(0.820,1)" font-size="7.90" text-anchor="middle">X245</text>
<rect x="669.65" y="395.16" width="11.70" height="10.64" fill="#5b9bd5"/>
<text transform="translate(675.10,415.80) scale(0.820,1)" font-size="7.90" text-anchor="middle">X222</text>
<text transform="translate(591.30,426.70) scale(0.884,1)" font-size="7.90" text-anchor="middle">Feature</text>
<text transform="translate(492.40,430.80) scale(0.975,1)" font-size="10.00" text-anchor="start">Type 8</text>
<text transform="translate(472.10,353.50) rotate(-90) scale(0.845,1)" font-size="7.90" text-anchor="middle">mean (|SHAP| value)</text>
</g>
<g>
<rect x="32.30" y="550.45" width="186.00" height="1.3" fill="#e8e8e8"/>
<text transform="translate(27.70,553.45) scale(0.840,1)" font-size="8.05" text-anchor="end">0.000</text>
<rect x="32.30" y="539.81" width="186.00" height="1.3" fill="#e8e8e8"/>
<text transform="translate(27.70,542.81) scale(0.840,1)" font-size="8.05" text-anchor="end">0.050</text>
<rect x="32.30" y="529.17" width="186.00" height="1.3" fill="#e8e8e8"/>
<text transform="translate(27.70,532.17) scale(0.840,1)" font-size="8.05" text-anchor="end">0.100</text>
<rect x="32.30" y="518.53" width="186.00" height="1.3" fill="#e8e8e8"/>
<text transform="translate(27.70,521.53) scale(0.840,1)" font-size="8.05" text-anchor="end">0.150</text>
<rect x="32.30" y="507.89" width="186.00" height="1.3" fill="#e8e8e8"/>
<text transform="translate(27.70,510.89) scale(0.840,1)" font-size="8.05" text-anchor="end">0.200</text>
<rect x="32.30" y="497.25" width="186.00" height="1.3" fill="#e8e8e8"/>
<text transform="translate(27.70,500.25) scale(0.840,1)" font-size="8.05" text-anchor="end">0.250</text>
<rect x="32.30" y="486.61" width="186.00" height="1.3" fill="#e8e8e8"/>
<text transform="translate(27.70,489.61) scale(0.840,1)" font-size="8.05" text-anchor="end">0.300</text>
<rect x="32.30" y="475.97" width="186.00" height="1.3" fill="#e8e8e8"/>
<text transform="translate(27.70,478.97) scale(0.840,1)" font-size="8.05" text-anchor="end">0.350</text>
<rect x="32.30" y="465.33" width="186.00" height="1.3" fill="#e8e8e8"/>
<text transform="translate(27.70,468.33) scale(0.840,1)" font-size="8.05" text-anchor="end">0.400</text>
<rect x="32.30" y="454.69" width="186.00" height="1.3" fill="#e8e8e8"/>
<text transform="translate(27.70,457.69) scale(0.840,1)" font-size="8.05" text-anchor="end">0.450</text>
<rect x="32.30" y="444.05" width="186.00" height="1.3" fill="#e8e8e8"/>
<text transform="translate(27.70,447.05) scale(0.840,1)" font-size="8.05" text-anchor="end">0.500</text>
<rect x="35.75" y="527.48" width="11.70" height="23.62" fill="#5b9bd5"/>
<text transform="translate(41.20,561.10) scale(0.820,1)" font-size="7.90" text-anchor="middle">X149</text>
<rect x="54.35" y="537.27" width="11.70" height="13.83" fill="#5b9bd5"/>
<text transform="translate(59.80,561.10) scale(0.820,1)" font-size="7.90" text-anchor="middle">X152</text>
<rect x="72.95" y="538.76" width="11.70" height="12.34" fill="#5b9bd5"/>
<text transform="translate(78.40,561.10) scale(0.820,1)" font-size="7.90" text-anchor="middle">X194</text>
<rect x="91.55" y="538.76" width="11.70" height="12.34" fill="#5b9bd5"/>
<text transform="translate(97.00,561.10) scale(0.820,1)" font-size="7.90" text-anchor="middle">X75</text>
<rect x="110.15" y="538.76" width="11.70" height="12.34" fill="#5b9bd5"/>
<text transform="translate(115.60,561.10) scale(0.820,1)" font-size="7.90" text-anchor="middle">X231</text>
<rect x="128.75" y="539.18" width="11.70" height="11.92" fill="#5b9bd5"/>
<text transform="translate(134.20,561.10) scale(0.820,1)" font-size="7.90" text-anchor="middle">X233</text>
<rect x="147.35" y="539.82" width="11.70" height="11.28" fill="#5b9bd5"/>
<text transform="translate(152.80,561.10) scale(0.820,1)" font-size="7.90" text-anchor="middle">X37</text>
<rect x="165.95" y="540.25" width="11.70" height="10.85" fill="#5b9bd5"/>
<text transform="translate(171.40,561.10) scale(0.820,1)" font-size="7.90" text-anchor="middle">X7</text>
<rect x="184.55" y="540.25" width="11.70" height="10.85" fill="#5b9bd5"/>
<text transform="translate(190.00,561.10) scale(0.820,1)" font-size="7.90" text-anchor="middle">X151</text>
<rect x="203.15" y="541.10" width="11.70" height="10.00" fill="#5b9bd5"/>
<text transform="translate(208.60,561.10) scale(0.820,1)" font-size="7.90" text-anchor="middle">X184</text>
<text transform="translate(124.80,572.00) scale(0.884,1)" font-size="7.90" text-anchor="middle">Feature</text>
<text transform="translate(9.40,574.70) scale(0.975,1)" font-size="10.00" text-anchor="start">Type 9</text>
<text transform="translate(5.60,498.80) rotate(-90) scale(0.845,1)" font-size="7.90" text-anchor="middle">mean (|SHAP| value)</text>
</g>
<g>
<rect x="266.00" y="550.45" width="185.60" height="1.3" fill="#e8e8e8"/>
<text transform="translate(261.40,553.45) scale(0.840,1)" font-size="8.05" text-anchor="end">0.000</text>
<rect x="266.00" y="539.81" width="185.60" height="1.3" fill="#e8e8e8"/>
<text transform="translate(261.40,542.81) scale(0.840,1)" font-size="8.05" text-anchor="end">0.050</text>
<rect x="266.00" y="529.17" width="185.60" height="1.3" fill="#e8e8e8"/>
<text transform="translate(261.40,532.17) scale(0.840,1)" font-size="8.05" text-anchor="end">0.100</text>
<rect x="266.00" y="518.53" width="185.60" height="1.3" fill="#e8e8e8"/>
<text transform="translate(261.40,521.53) scale(0.840,1)" font-size="8.05" text-anchor="end">0.150</text>
<rect x="266.00" y="507.89" width="185.60" height="1.3" fill="#e8e8e8"/>
<text transform="translate(261.40,510.89) scale(0.840,1)" font-size="8.05" text-anchor="end">0.200</text>
<rect x="266.00" y="497.25" width="185.60" height="1.3" fill="#e8e8e8"/>
<text transform="translate(261.40,500.25) scale(0.840,1)" font-size="8.05" text-anchor="end">0.250</text>
<rect x="266.00" y="486.61" width="185.60" height="1.3" fill="#e8e8e8"/>
<text transform="translate(261.40,489.61) scale(0.840,1)" font-size="8.05" text-anchor="end">0.300</text>
<rect x="266.00" y="475.97" width="185.60" height="1.3" fill="#e8e8e8"/>
<text transform="translate(261.40,478.97) scale(0.840,1)" font-size="8.05" text-anchor="end">0.350</text>
<rect x="266.00" y="465.33" width="185.60" height="1.3" fill="#e8e8e8"/>
<text transform="translate(261.40,468.33) scale(0.840,1)" font-size="8.05" text-anchor="end">0.400</text>
<rect x="266.00" y="454.69" width="185.60" height="1.3" fill="#e8e8e8"/>
<text transform="translate(261.40,457.69) scale(0.840,1)" font-size="8.05" text-anchor="end">0.450</text>
<rect x="266.00" y="444.05" width="185.60" height="1.3" fill="#e8e8e8"/>
<text transform="translate(261.40,447.05) scale(0.840,1)" font-size="8.05" text-anchor="end">0.500</text>
<rect x="269.45" y="531.52" width="11.70" height="19.58" fill="#5b9bd5"/>
<text transform="translate(274.90,561.10) scale(0.820,1)" font-size="7.90" text-anchor="middle">X193</text>
<rect x="288.05" y="537.06" width="11.70" height="14.04" fill="#5b9bd5"/>
<text transform="translate(293.50,561.10) scale(0.820,1)" font-size="7.90" text-anchor="middle">X117</text>
<rect x="306.65" y="538.97" width="11.70" height="12.13" fill="#5b9bd5"/>
<text transform="translate(312.10,561.10) scale(0.820,1)" font-size="7.90" text-anchor="middle">X41</text>
<rect x="325.25" y="539.29" width="11.70" height="11.81" fill="#5b9bd5"/>
<text transform="translate(330.70,561.10) scale(0.820,1)" font-size="7.90" text-anchor="middle">X203</text>
<rect x="343.85" y="539.82" width="11.70" height="11.28" fill="#5b9bd5"/>
<text transform="translate(349.30,561.10) scale(0.820,1)" font-size="7.90" text-anchor="middle">X84</text>
<rect x="362.45" y="541.31" width="11.70" height="9.79" fill="#5b9bd5"/>
<text transform="translate(367.90,561.10) scale(0.820,1)" font-size="7.90" text-anchor="middle">X92</text>
<rect x="381.05" y="542.16" width="11.70" height="8.94" fill="#5b9bd5"/>
<text transform="translate(386.50,561.10) scale(0.820,1)" font-size="7.90" text-anchor="middle">X247</text>
<rect x="399.65" y="542.59" width="11.70" height="8.51" fill="#5b9bd5"/>
<text transform="translate(405.10,561.10) scale(0.820,1)" font-size="7.90" text-anchor="middle">X37</text>
<rect x="418.25" y="542.59" width="11.70" height="8.51" fill="#5b9bd5"/>
<text transform="translate(423.70,561.10) scale(0.820,1)" font-size="7.90" text-anchor="middle">X78</text>
<rect x="436.85" y="543.23" width="11.70" height="7.87" fill="#5b9bd5"/>
<text transform="translate(442.30,561.10) scale(0.820,1)" font-size="7.90" text-anchor="middle">X53</text>
<text transform="translate(358.50,572.00) scale(0.884,1)" font-size="7.90" text-anchor="middle">Feature</text>
<text transform="translate(251.90,574.70) scale(0.975,1)" font-size="10.00" text-anchor="start">Type 10</text>
<text transform="translate(239.80,498.80) rotate(-90) scale(0.845,1)" font-size="7.90" text-anchor="middle">mean (|SHAP| value)</text>
</g>
</svg>
</body></html>
